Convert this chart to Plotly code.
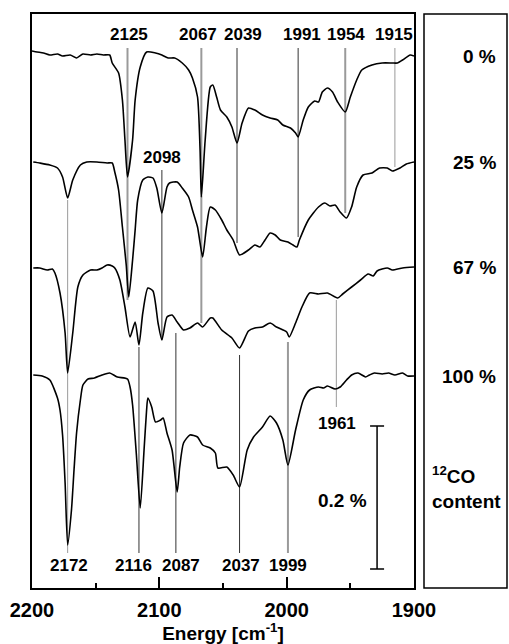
import plotly.graph_objects as go

# ---------------- data ----------------
# wavenumber (cm-1) and stacked signal (offset units; 143 units = 0.2 %)
wn_0 = [2200, 2196, 2191, 2186, 2180, 2176, 2170, 2165, 2160, 2154, 2149, 2144, 2139, 2137, 2132, 2129,
        2127, 2125, 2121, 2119, 2115, 2110, 2103, 2098, 2093, 2088, 2082, 2077, 2074, 2070, 2068, 2067,
        2064, 2060, 2058, 2055, 2052, 2047, 2043, 2039, 2035, 2030, 2025, 2019, 2013, 2007, 2003, 1997,
        1993, 1991, 1987, 1983, 1978, 1975, 1972, 1968, 1964, 1960, 1954, 1950, 1945, 1941, 1933, 1925,
        1917, 1913, 1909, 1903, 1900]
sig_0 = [537, 536, 535, 533, 534, 532, 533, 530, 534, 533, 534, 533, 533, 525, 515, 488,
         448, 411, 448, 488, 521, 536, 535, 533, 530, 530, 525, 518, 510, 491, 438, 391,
         448, 501, 503, 491, 478, 471, 461, 445, 465, 480, 478, 473, 470, 468, 463, 460,
         455, 451, 468, 481, 487, 486, 496, 500, 496, 486, 476, 491, 508, 518, 523, 525,
         525, 525, 528, 533, 532]

wn_25 = [2199, 2194, 2186, 2180, 2176, 2172, 2168, 2162, 2157, 2149, 2141, 2137, 2135, 2132, 2129, 2126,
         2124, 2121, 2119, 2117, 2113, 2109, 2105, 2102, 2098, 2094, 2092, 2086, 2082, 2077, 2074, 2070,
         2066, 2063, 2060, 2056, 2051, 2047, 2042, 2037, 2030, 2025, 2021, 2017, 2013, 2009, 2005, 1999,
         1995, 1992, 1990, 1983, 1975, 1970, 1966, 1962, 1958, 1953, 1949, 1945, 1940, 1933, 1927, 1921,
         1917, 1911, 1906, 1900]
sig_25 = [426, 425, 423, 420, 411, 390, 408, 423, 426, 426, 425, 425, 416, 398, 361, 323,
          291, 328, 358, 388, 408, 411, 410, 400, 375, 401, 405, 406, 400, 391, 378, 361,
          331, 361, 381, 378, 368, 358, 348, 333, 338, 343, 341, 348, 355, 353, 348, 346,
          343, 341, 348, 368, 381, 385, 382, 383, 376, 370, 381, 401, 413, 415, 420, 420,
          417, 420, 424, 426]

wn_67 = [2199, 2194, 2188, 2184, 2182, 2178, 2174, 2172, 2168, 2164, 2160, 2154, 2149, 2145, 2141, 2137,
         2135, 2131, 2127, 2123, 2119, 2116, 2113, 2109, 2105, 2101, 2098, 2094, 2090, 2086, 2081, 2076,
         2070, 2066, 2060, 2058, 2051, 2043, 2037, 2030, 2025, 2019, 2013, 2008, 2000, 1998, 1993, 1988,
         1982, 1975, 1968, 1960, 1956, 1949, 1942, 1936, 1932, 1929, 1921, 1917, 1909, 1900]
sig_67 = [320, 320, 318, 319, 315, 295, 255, 215, 255, 301, 313, 318, 318, 320, 323, 322,
          320, 308, 281, 251, 266, 243, 275, 300, 297, 265, 248, 271, 273, 266, 258, 260,
          265, 261, 270, 270, 258, 250, 240, 257, 260, 261, 265, 261, 256, 251, 265, 281,
          295, 294, 295, 290, 294, 301, 308, 314, 312, 317, 320, 318, 320, 321]

wn_100 = [2199, 2192, 2186, 2180, 2178, 2176, 2174, 2172, 2169, 2167, 2165, 2162, 2160, 2156, 2151, 2145,
          2139, 2133, 2125, 2123, 2121, 2118, 2115, 2112, 2110, 2109, 2106, 2103, 2099, 2097, 2094, 2090,
          2086, 2084, 2081, 2076, 2070, 2066, 2060, 2056, 2054, 2047, 2042, 2037, 2031, 2026, 2019, 2013,
          2008, 2003, 1999, 1993, 1987, 1982, 1975, 1971, 1968, 1962, 1958, 1953, 1949, 1944, 1938, 1935,
          1931, 1925, 1920, 1915, 1909, 1905, 1900]
sig_100 = [213, 212, 208, 190, 178, 153, 105, 43, 78, 118, 155, 188, 203, 209, 210, 213,
           215, 211, 209, 201, 183, 133, 80, 138, 178, 190, 181, 166, 168, 170, 155, 138,
           96, 121, 145, 153, 151, 143, 140, 135, 120, 121, 113, 101, 138, 151, 161, 172,
           165, 148, 123, 158, 188, 198, 201, 200, 202, 199, 201, 208, 213, 215, 211, 213,
           215, 214, 215, 213, 215, 212, 212]

content_labels = ["0 %", "25 %", "67 %", "100 %"]

# peak marker lines: wavenumber, top, bottom (signal units), style
peak_wn = [2125, 2067, 2039, 1991, 1954, 1915, 2098, 2172, 2116, 2087, 2037, 1999, 1961]
peak_top = [540, 540, 540, 540, 540, 540, 418, 388, 241, 255, 233, 246, 288]
peak_bot = [288, 265, 345, 351, 375, 421, 248, 35, 35, 35, 35, 35, 181]
peak_gray = [True, True, False, False, True, True, False, True, False, False, False, True, True]
peak_wide = [True, True, False, False, True, False, False, False, False, False, False, True, False]

# peak labels: text, x position (cm-1), y position (signal units)
label_text = ["2125", "2067", "2039", "1991", "1954", "1915", "2098",
              "2172", "2116", "2087", "2037", "1999", "1961"]
label_x = [2123.5, 2069.5, 2034.5, 1988, 1953.5, 1915.5, 2098,
           2171, 2120, 2083, 2036, 1999, 1960.5]
label_y = [554, 554, 554, 554, 554, 554, 431, 23, 23, 23, 23, 23, 165]

# scale bar: 0.2 % corresponds to 143 signal units
scale_wn = 1929
scale_bottom = 19
scale_len = 143
scale_text = "0.2 %"

x_ticks = [2200, 2100, 2000, 1900]
x_minor = [2150, 2050, 1950]

# ---------------- figure ----------------
FONT = "Liberation Sans, Arial, Helvetica, sans-serif"
fig = go.Figure()

for wn, sig in [(wn_0, sig_0), (wn_25, sig_25), (wn_67, sig_67), (wn_100, sig_100)]:
    fig.add_trace(go.Scatter(x=wn, y=sig, mode="lines",
                             line=dict(color="black", width=1.6, shape="spline", smoothing=0.6),
                             hoverinfo="skip", showlegend=False))

shapes = []
for w, t, b, g, wd in zip(peak_wn, peak_top, peak_bot, peak_gray, peak_wide):
    shapes.append(dict(type="line", xref="x", yref="y", x0=w, x1=w, y0=b, y1=t,
                       line=dict(color="#9a9a9a" if g else "#333333", width=2 if wd else 1),
                       layer="below"))

# scale bar
cap = 5.5
shapes.append(dict(type="line", xref="x", yref="y", x0=scale_wn, x1=scale_wn,
                   y0=scale_bottom, y1=scale_bottom + scale_len, line=dict(color="black", width=1.5)))
for yy in (scale_bottom, scale_bottom + scale_len):
    shapes.append(dict(type="line", xref="x", yref="y", x0=scale_wn + cap, x1=scale_wn - cap,
                       y0=yy, y1=yy, line=dict(color="black", width=1.5)))

# right panel box
W, H = 509, 644
ml, mr, mt, mb = 32, 2, 14, 56
pw = W - ml - mr
main_right = (414 - ml) / pw
shapes.append(dict(type="rect", xref="paper", yref="paper", x0=(424 - ml) / pw, x1=(507 - ml) / pw,
                   y0=0, y1=1, line=dict(color="black", width=1.5)))

annotations = []
for t, x, y in zip(label_text, label_x, label_y):
    annotations.append(dict(x=x, y=y, xref="x", yref="y", text=t, showarrow=False,
                            font=dict(family=FONT, size=17, color="black", weight="bold")))

# content labels aligned with the right end of each trace
ends = [sig_0[-1], sig_25[-1], sig_67[-1], sig_100[-1]]
for t, y in zip(content_labels, ends):
    annotations.append(dict(x=(498 - ml) / pw, y=y, xref="paper", yref="y", text=t, showarrow=False,
                            xanchor="right",
                            font=dict(family=FONT, size=19, color="black", weight="bold")))

annotations.append(dict(x=(430 - ml) / pw, y=101, xref="paper", yref="y",
                        text="<sup>12</sup>CO<br>content", showarrow=False, xanchor="left", align="left",
                        font=dict(family=FONT, size=19, color="black", weight="bold")))

annotations.append(dict(x=1956.5, y=88, xref="x", yref="y", text=scale_text, showarrow=False,
                        font=dict(family=FONT, size=19, color="black", weight="bold")))

fig.update_layout(
    width=W, height=H, autosize=False,
    margin=dict(l=ml, r=mr, t=mt, b=mb, pad=0, autoexpand=False),
    plot_bgcolor="white", paper_bgcolor="white",
    shapes=shapes, annotations=annotations,
    xaxis=dict(domain=[0, main_right], range=[2200, 1900], showline=True, mirror=True,
               automargin=False,
               linecolor="black", linewidth=1.5, showgrid=False, zeroline=False,
               tickmode="array", tickvals=x_ticks, ticktext=[str(v) for v in x_ticks],
               ticks="inside", ticklen=11, tickwidth=1.5, tickcolor="black",
               ticklabelstandoff=3,
               tickfont=dict(family=FONT, size=20, color="black", weight="bold"),
               minor=dict(tickvals=x_minor, ticks="inside", ticklen=5, tickwidth=1.5, tickcolor="black"),
               title=dict(text="Energy [cm<sup>-1</sup>]", standoff=3,
                          font=dict(family=FONT, size=19, color="black", weight="bold"))),
    yaxis=dict(range=[0, 574], showline=True, mirror=True, linecolor="black", linewidth=1.5,
               automargin=False,
               showgrid=False, zeroline=False, showticklabels=False, ticks=""),
)

fig.write_html("out.html", config={"responsive": False})
